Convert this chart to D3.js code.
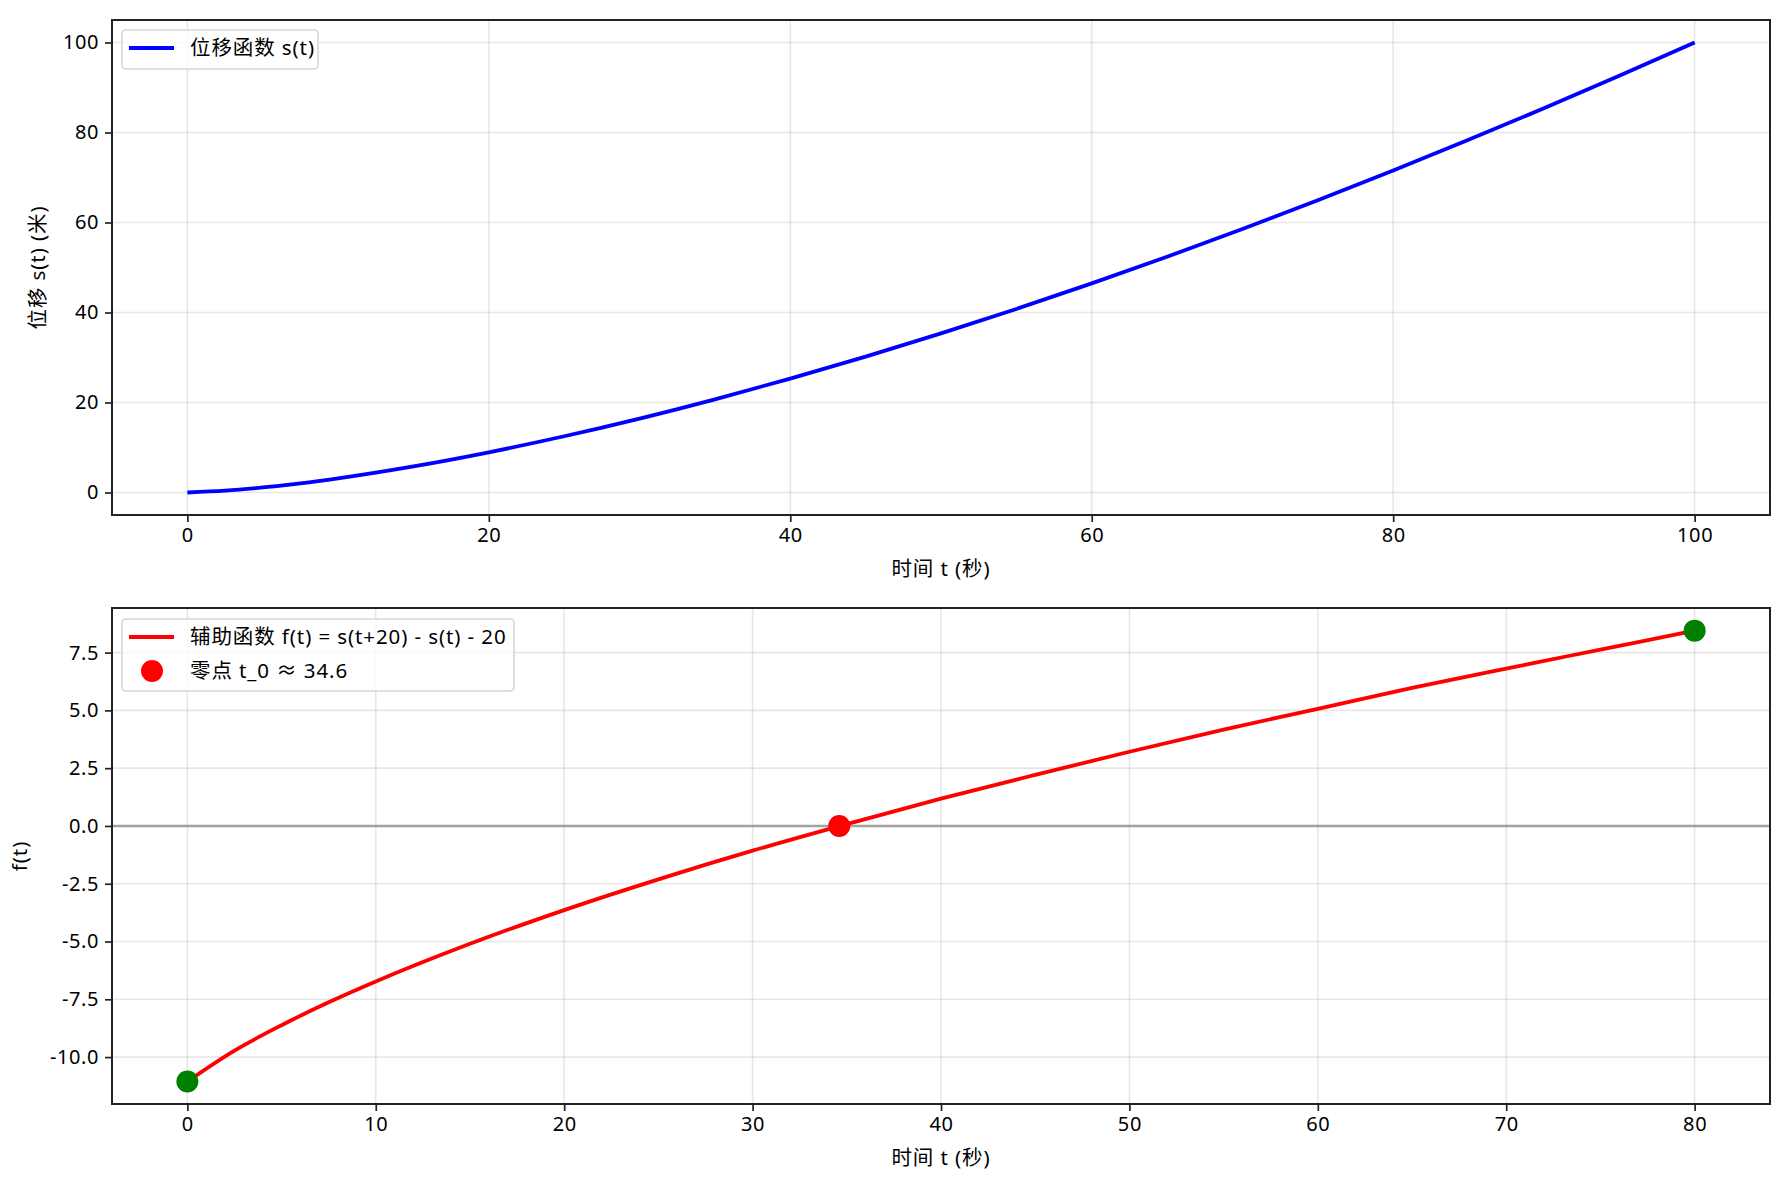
<!DOCTYPE html>
<html><head><meta charset="utf-8">
<script src="https://cdn.jsdelivr.net/npm/d3@7"></script>
<style>
body{margin:0;background:#fff;}
text{font-family:"Noto Sans","Noto Sans CJK SC",sans-serif;fill:#000;}
</style></head>
<body><svg id="c" width="1785" height="1181"></svg>
<script>
// Data
const tTop = [0,2.5,5,7.5,10,15,20,25,30,35,40,45,50,55,60,65,70,75,80,85,90,95,100];
const sValues = [0,0.4,1.12,2.05,3.16,5.81,8.94,12.5,16.43,20.71,25.3,30.19,35.36,40.79,46.48,52.4,58.57,64.96,71.55,78.37,85.38,92.59,100];
const tBottom = [0,2.5,5,7.5,10,15,20,25,30,35,40,45,50,55,60,65,70,75,80];
const fValues = [-11.06,-9.72,-8.62,-7.63,-6.73,-5.10,-3.64,-2.31,-1.07,0.08,1.18,2.21,3.21,4.17,5.07,5.97,6.81,7.63,8.45];
const endpoints = [[0,-11.06],[80,8.45]];
const zeroPoint = [34.6,0];
const topXTicks = [0,20,40,60,80,100];
const topYTicks = [0,20,40,60,80,100];
const botXTicks = [0,10,20,30,40,50,60,70,80];
const botYTicks = [-10,-7.5,-5,-2.5,0,2.5,5,7.5];
const labels = {
  x: "时间 t (秒)",
  yTop: "位移 s(t) (米)",
  yBot: "f(t)",
  legTop: "位移函数 s(t)",
  legBot1: "辅助函数 f(t) = s(t+20) - s(t) - 20",
  legBot2: "零点 t_0 ≈ 34.6"
};

const svg = d3.select("#c");
const L = 112, R = 1770;
const fs = 20, fsL = 20.5, ls = "0.6px", lsL = "0.9px";
const FONT = '"Noto Sans","Noto Sans CJK SC",sans-serif';
const hy = f => d => f(d).replace("\u2212", "-");

function panel(top, bottom, xDom, yDom, xTicks, yTicks, yFmt, ylabel, ylabelX) {
  const x = d3.scaleLinear().domain(xDom).range([L, R]);
  const y = d3.scaleLinear().domain(yDom).range([bottom, top]);
  const g = svg.append("g");
  g.selectAll(".gx").data(xTicks).enter().append("line")
    .attr("x1", d => x(d)).attr("x2", d => x(d)).attr("y1", top).attr("y2", bottom)
    .attr("stroke", "#b0b0b0").attr("stroke-opacity", 0.3).attr("stroke-width", 1.6);
  g.selectAll(".gy").data(yTicks).enter().append("line")
    .attr("y1", d => y(d)).attr("y2", d => y(d)).attr("x1", L).attr("x2", R)
    .attr("stroke", "#b0b0b0").attr("stroke-opacity", 0.3).attr("stroke-width", 1.6);
  const xa = g.append("g").attr("transform", `translate(0,${bottom})`)
    .call(d3.axisBottom(x).tickValues(xTicks).tickSize(7).tickPadding(6).tickFormat(hy(d3.format("d"))));
  const ya = g.append("g").attr("transform", `translate(${L},0)`)
    .call(d3.axisLeft(y).tickValues(yTicks).tickSize(7).tickPadding(6).tickFormat(hy(yFmt)));
  [xa, ya].forEach(a => {
    a.select(".domain").remove();
    a.selectAll("line").attr("stroke", "#222").attr("stroke-width", 1.7);
    a.selectAll("text").attr("font-size", fs).attr("fill", "#000").style("font-family", FONT)
      .style("letter-spacing", ls);
  });
  g.append("text").attr("x", (L + R) / 2).attr("y", bottom + 61).attr("text-anchor", "middle")
    .attr("font-size", fsL).style("letter-spacing", lsL).text(labels.x);
  g.append("text").attr("transform", `translate(${ylabelX},${(top + bottom) / 2}) rotate(-90)`)
    .attr("text-anchor", "middle").attr("font-size", fsL).style("letter-spacing", lsL).text(ylabel);
  return {x, y, g, top, bottom};
}

function frame(p) {
  p.g.append("rect").attr("x", L).attr("y", p.top).attr("width", R - L).attr("height", p.bottom - p.top)
    .attr("fill", "none").attr("stroke", "#222").attr("stroke-width", 2);
}

function legText(g, x, y, t) {
  g.append("text").attr("x", x).attr("y", y).attr("dy", "0.35em").attr("font-size", fsL)
    .style("letter-spacing", lsL).text(t);
}

// Top panel
const p1 = panel(20, 515, [-5, 105], [-5, 105], topXTicks, topYTicks, d3.format("d"), labels.yTop, 45);
p1.g.append("path").datum(tTop.map((t, i) => [t, sValues[i]]))
  .attr("d", d3.line().x(d => p1.x(d[0])).y(d => p1.y(d[1])).curve(d3.curveMonotoneX))
  .attr("fill", "none").attr("stroke", "#0000ff").attr("stroke-width", 3.8);
frame(p1);
const lg1 = p1.g.append("g");
lg1.append("rect").attr("x", 122).attr("y", 30).attr("width", 196).attr("height", 39).attr("rx", 4)
  .attr("fill", "#fff").attr("fill-opacity", 0.8).attr("stroke", "#d6d6d6").attr("stroke-width", 1.6);
lg1.append("line").attr("x1", 129).attr("x2", 174).attr("y1", 48).attr("y2", 48)
  .attr("stroke", "#0000ff").attr("stroke-width", 3.8);
legText(lg1, 190, 48, labels.legTop);

// Bottom panel
const p2 = panel(608, 1104, [-4, 84], [-12.03, 9.43], botXTicks, botYTicks, d3.format(".1f"), labels.yBot, 27);
p2.g.append("line").attr("x1", L).attr("x2", R).attr("y1", p2.y(0)).attr("y2", p2.y(0))
  .attr("stroke", "#808080").attr("stroke-opacity", 0.7).attr("stroke-width", 2.5);
p2.g.append("path").datum(tBottom.map((t, i) => [t, fValues[i]]))
  .attr("d", d3.line().x(d => p2.x(d[0])).y(d => p2.y(d[1])).curve(d3.curveMonotoneX))
  .attr("fill", "none").attr("stroke", "#ff0000").attr("stroke-width", 3.8);
p2.g.selectAll(".ep").data(endpoints).enter().append("circle")
  .attr("cx", d => p2.x(d[0])).attr("cy", d => p2.y(d[1])).attr("r", 11).attr("fill", "#008000");
p2.g.append("circle").attr("cx", p2.x(zeroPoint[0])).attr("cy", p2.y(zeroPoint[1])).attr("r", 11).attr("fill", "#ff0000");
frame(p2);
const lg2 = p2.g.append("g");
lg2.append("rect").attr("x", 122).attr("y", 619).attr("width", 392).attr("height", 72).attr("rx", 4)
  .attr("fill", "#fff").attr("fill-opacity", 0.8).attr("stroke", "#d6d6d6").attr("stroke-width", 1.6);
lg2.append("line").attr("x1", 129).attr("x2", 174).attr("y1", 637).attr("y2", 637)
  .attr("stroke", "#ff0000").attr("stroke-width", 3.8);
legText(lg2, 190, 637, labels.legBot1);
lg2.append("circle").attr("cx", 152).attr("cy", 671).attr("r", 11).attr("fill", "#ff0000");
legText(lg2, 190, 671, labels.legBot2);
</script></body></html>
